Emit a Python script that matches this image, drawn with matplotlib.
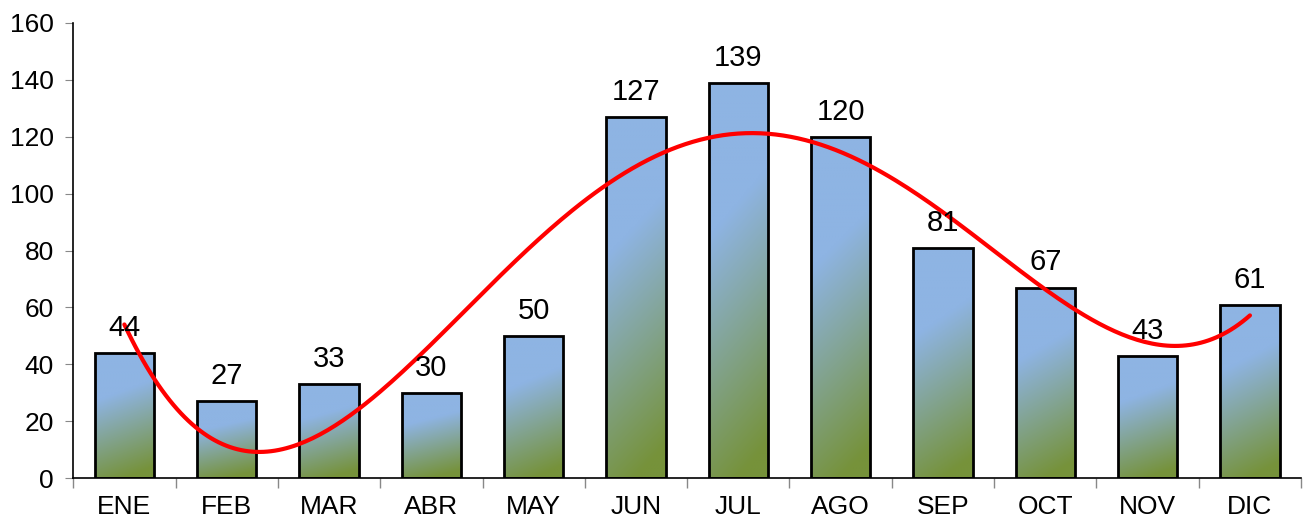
import numpy as np
import matplotlib
matplotlib.use("Agg")
import matplotlib.pyplot as plt
from matplotlib.ticker import FixedLocator, MultipleLocator

months = ['ENE', 'FEB', 'MAR', 'ABR', 'MAY', 'JUN', 'JUL', 'AGO', 'SEP', 'OCT', 'NOV', 'DIC']
values = [44, 27, 33, 30, 50, 127, 139, 120, 81, 67, 43, 61]

plt.rcParams['font.family'] = ['Liberation Sans', 'DejaVu Sans']

fig = plt.figure(figsize=(13.07, 5.22), dpi=100)
ax = fig.add_axes([0.056, 0.084, 0.9395, 0.872])

x = np.arange(len(months))
bars = ax.bar(x, values, width=0.58, color='none', edgecolor='black', linewidth=2, zorder=3)

# vertical gradient blue -> green inside each bar
blue = np.array([142, 180, 227]) / 255
green = np.array([118, 146, 58]) / 255
ny, nx = 200, 40
yf = np.linspace(1, 0, ny)[:, None]   # 1 top, 0 bottom
xf = np.linspace(0, 1, nx)[None, :]
t = np.clip((1 - yf - 0.3) / 0.7 + 0.25 * (xf - 0.5), 0, 1)
grad = blue[None, None, :] * (1 - t[..., None]) + green[None, None, :] * t[..., None]

for b in bars:
    x0, w, h = b.get_x(), b.get_width(), b.get_height()
    im = ax.imshow(grad, extent=[x0, x0 + w, 0, h], aspect='auto', zorder=2,
                   interpolation='bilinear')
    im.set_clip_path(b)
    ax.annotate(str(int(h)), (x0 + w / 2, h), xytext=(0, 8), textcoords='offset points',
                ha='center', va='bottom', fontsize=21, zorder=5)

# polynomial trend line
coef = np.polyfit(x, values, 4)
xs = np.linspace(0, len(months) - 1, 300)
ax.plot(xs, np.polyval(coef, xs), color='red', lw=3, zorder=4, solid_capstyle='round')

ax.set_xlim(-0.5, len(months) - 0.5)
ax.set_ylim(0, 160)
ax.yaxis.set_major_locator(MultipleLocator(20))
ax.set_xticks(x)
ax.set_xticklabels(months)
ax.xaxis.set_minor_locator(FixedLocator(np.arange(-0.5, len(months), 1)))
ax.tick_params(axis='x', which='major', length=0, pad=12, labelsize=19)
ax.tick_params(axis='x', which='minor', length=7, color='#888888', width=1)
ax.tick_params(axis='y', length=6, color='#888888', labelsize=19, pad=8)

for s in ['top', 'right']:
    ax.spines[s].set_visible(False)
ax.spines['left'].set_linewidth(1.2)
ax.spines['bottom'].set_linewidth(1.2)

fig.savefig('out.png', dpi=100)
